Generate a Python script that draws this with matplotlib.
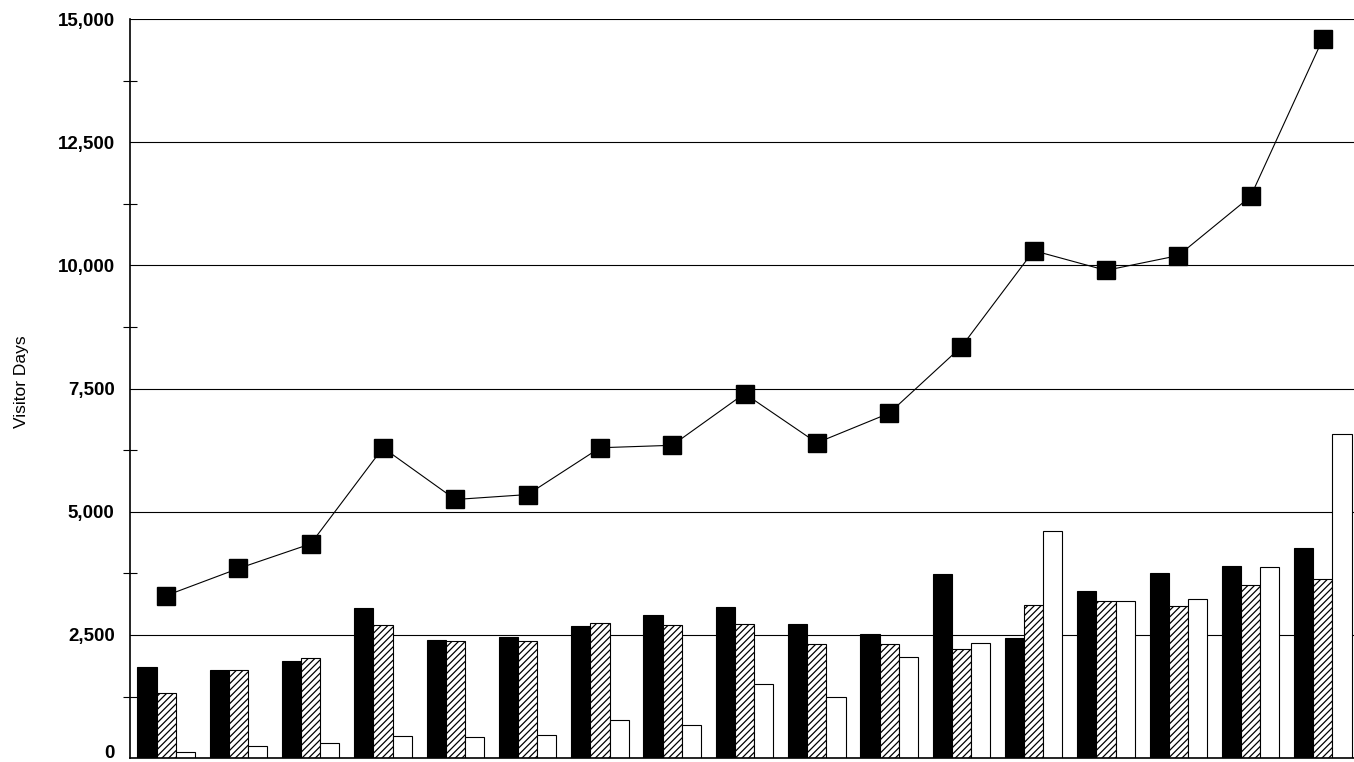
import numpy as np
import matplotlib.pyplot as plt
from matplotlib.ticker import MultipleLocator, FuncFormatter

plt.rcParams['font.family'] = ['Liberation Sans', 'DejaVu Sans']
plt.rcParams['hatch.linewidth'] = 0.9
plt.rcParams['hatch.color'] = '#333333'

# values (17 periods)
total = [3300, 3850, 4350, 6300, 5250, 5350, 6300, 6350, 7400, 6400,
         7000, 8350, 10300, 9900, 10200, 11400, 14600]
series_black = [1850, 1780, 1980, 3050, 2390, 2450, 2680, 2900, 3070, 2730,
                2520, 3730, 2440, 3400, 3760, 3900, 4270]
series_hatch = [1330, 1790, 2030, 2700, 2370, 2380, 2740, 2700, 2730, 2320,
                2320, 2210, 3100, 3190, 3090, 3510, 3640]
series_white = [120, 250, 300, 460, 440, 480, 780, 670, 1500, 1250,
                2050, 2330, 4620, 3190, 3240, 3870, 6570]

x = np.arange(len(total))
w = 0.265

fig = plt.figure(figsize=(13.54, 7.62), dpi=100)
ax = fig.add_axes([0.096, 0.005, 0.904, 0.970])

ax.bar(x - w, series_black, w, color='black', edgecolor='black', lw=0.8, zorder=2)
ax.bar(x, series_hatch, w, color='white', edgecolor='black', hatch='/////', lw=0.8, zorder=2)
ax.bar(x + w, series_white, w, color='white', edgecolor='black', lw=0.8, zorder=2)
ax.plot(x, total, color='black', lw=0.8, marker='s', markersize=12.5, zorder=3)

ax.set_xlim(-0.5, 16.43)
ax.set_ylim(0, 15000)
ax.yaxis.set_major_locator(MultipleLocator(2500))
ax.yaxis.set_minor_locator(MultipleLocator(1250))
ax.yaxis.set_major_formatter(FuncFormatter(lambda v, p: f'{int(v):,}'))
ax.grid(axis='y', which='major', color='black', lw=0.8, zorder=1)
ax.set_axisbelow(True)
ax.tick_params(axis='y', which='major', length=0, pad=11, labelsize=13.5)
ax.tick_params(axis='y', which='minor', length=10, direction='inout', width=0.8)
ax.tick_params(axis='x', length=0, labelbottom=False)
fig.canvas.draw()
for lab in ax.get_yticklabels():
    lab.set_fontweight('bold')
    if lab.get_text() == '0':
        # sits on the bottom edge, keep it inside the picture
        lab.set_verticalalignment('baseline')
for s in ['top', 'right']:
    ax.spines[s].set_visible(False)
ax.spines['left'].set_linewidth(1.2)
ax.spines['bottom'].set_linewidth(1.2)
ax.set_ylabel('Visitor Days', fontsize=12.5)
ax.yaxis.set_label_coords(-0.0825, 0.51)

fig.savefig('out.png', dpi=100)
